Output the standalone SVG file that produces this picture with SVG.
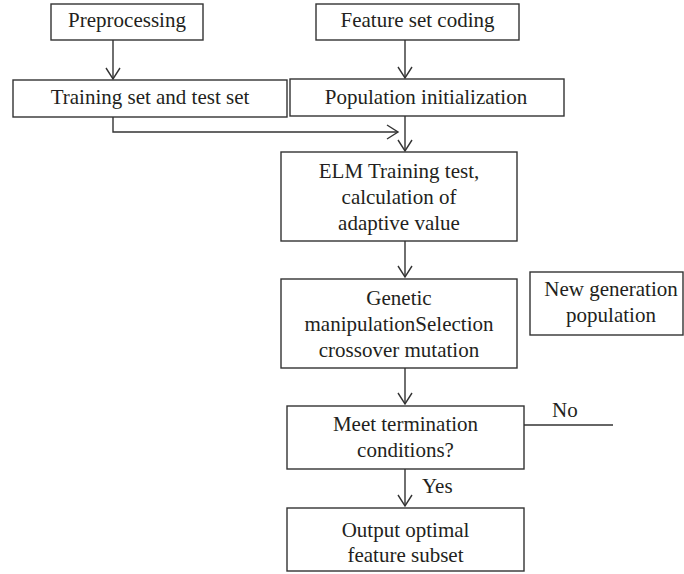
<svg xmlns="http://www.w3.org/2000/svg" width="684" height="574" viewBox="0 0 684 574">
<style>
  .box{fill:#fff;stroke:#333;stroke-width:1.4}
  .ln{fill:none;stroke:#333;stroke-width:1.4}
  text{font-family:"Liberation Serif","Times New Roman",serif;font-size:21px;fill:#231f20}
  .c{text-anchor:middle}
</style>
<defs>
  <marker id="arr" markerUnits="userSpaceOnUse" markerWidth="16" markerHeight="16" refX="12" refY="7" orient="auto" overflow="visible">
    <path d="M1,0 L12,7 L1,14" fill="none" stroke="#333" stroke-width="1.4"/>
  </marker>
</defs>
<rect width="684" height="574" fill="#fff"/>
<g id="connectors">
  <line class="ln" x1="113" y1="40" x2="113" y2="79" marker-end="url(#arr)"/>
  <line class="ln" x1="405" y1="40" x2="405" y2="78" marker-end="url(#arr)"/>
  <polyline class="ln" points="113,117 113,132 398,132" marker-end="url(#arr)"/>
  <line class="ln" x1="405" y1="116" x2="405" y2="151" marker-end="url(#arr)"/>
  <line class="ln" x1="405" y1="241" x2="405" y2="277" marker-end="url(#arr)"/>
  <line class="ln" x1="405" y1="368" x2="405" y2="404" marker-end="url(#arr)"/>
  <line class="ln" x1="524" y1="425" x2="613" y2="425"/>
  <text x="552" y="417">No</text>
  <line class="ln" x1="405" y1="469" x2="405" y2="506" marker-end="url(#arr)"/>
  <text x="422" y="493">Yes</text>
</g>
<g id="preprocessing">
  <rect class="box" x="51" y="4" width="152" height="36"/>
  <text class="c" x="127" y="27">Preprocessing</text>
</g>
<g id="feature-coding">
  <rect class="box" x="316" y="4" width="203" height="36"/>
  <text class="c" x="417.5" y="27">Feature set coding</text>
</g>
<g id="training-set">
  <rect class="box" x="13" y="80" width="274" height="37"/>
  <text class="c" x="150" y="104">Training set and test set</text>
</g>
<g id="population-init">
  <rect class="box" x="290" y="79" width="274" height="37"/>
  <text class="c" x="426" y="103.5">Population initialization</text>
</g>
<g id="elm">
  <rect class="box" x="281" y="152" width="236" height="89"/>
  <text class="c" x="399" y="178">ELM Training test,</text>
  <text class="c" x="399" y="204">calculation of</text>
  <text class="c" x="399" y="230">adaptive value</text>
</g>
<g id="genetic">
  <rect class="box" x="281" y="279" width="236" height="89"/>
  <text class="c" x="399" y="305">Genetic</text>
  <text class="c" x="399" y="331">manipulationSelection</text>
  <text class="c" x="399" y="357">crossover mutation</text>
</g>
<g id="new-generation">
  <rect class="box" x="530" y="272" width="153" height="63"/>
  <text class="c" x="611" y="296">New generation</text>
  <text class="c" x="611" y="322">population</text>
</g>
<g id="termination">
  <rect class="box" x="287" y="406" width="237" height="63"/>
  <text class="c" x="405.5" y="431">Meet termination</text>
  <text class="c" x="405.5" y="457">conditions?</text>
</g>
<g id="output">
  <rect class="box" x="287" y="508" width="237" height="63"/>
  <text class="c" x="405.5" y="537">Output optimal</text>
  <text class="c" x="405.5" y="562">feature subset</text>
</g>
</svg>
